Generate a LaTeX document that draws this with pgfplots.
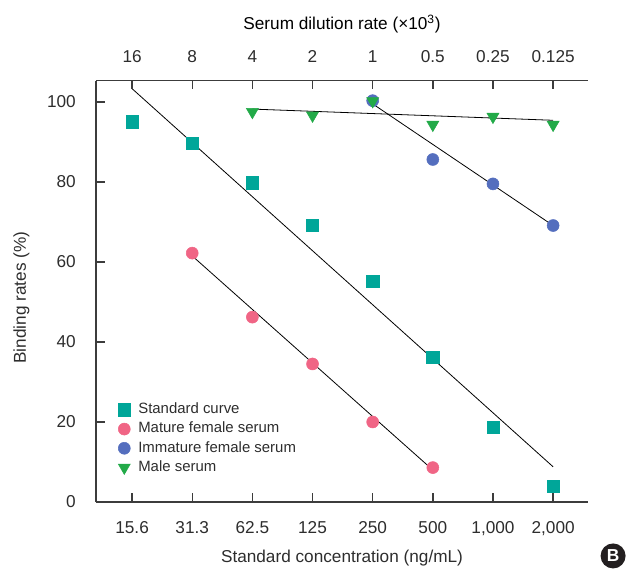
\documentclass[border=0pt]{standalone}
\usepackage{pgfplots}
\pgfplotsset{compat=1.18}
\usepackage{fontspec}
\setmainfont{Liberation Sans}

\definecolor{axisgray}{RGB}{60,60,60}
\definecolor{textgray}{RGB}{45,45,45}
\definecolor{cteal}{RGB}{0,166,153}
\definecolor{cpink}{RGB}{240,101,133}
\definecolor{cblue}{RGB}{84,110,190}
\definecolor{cgreen}{RGB}{34,170,72}

\newcommand\lblfont{\fontsize{12.9}{15}\selectfont}

\begin{document}
\begin{tikzpicture}
\pgfplotsset{
  common/.style={
    scale only axis, width=369pt, height=316pt,
    xmin=-0.6, xmax=7.58, ymin=0, ymax=105.3,
    major tick length=6pt,
    axis line style={-, draw=axisgray, line width=1pt},
    tick style={draw=axisgray, line width=1.1pt},
    ticklabel style={font=\lblfont, text=textgray},
    label style={font=\lblfont, text=textgray},
    /pgf/number format/assume math mode=true,
    clip=false,
  }
}
\begin{axis}[common, name=main,
  axis x line=bottom, axis y line=left,
  x axis line style={-}, y axis line style={-},
  xtick align=inside, ytick align=inside, ytick pos=left,
  ytick style={draw=axisgray, line width=1.1pt},
  major tick length=6.5pt,
  xtick={0,...,7},
  xticklabels={15.6,31.3,62.5,125,250,500,{1,000},{2,000}},
  ytick={0,20,...,100},
  xticklabel style={anchor=base, inner sep=0pt, yshift=-23.25pt},
  yticklabel style={anchor=east, inner sep=0pt, xshift=-15pt},
  xlabel={Standard concentration (ng/mL)},
  xlabel style={at={(axis description cs:0.5,0)}, anchor=base, yshift=-45pt, font=\lblfont},
  ylabel={Binding rates (\%)},
  ylabel style={at={(axis description cs:0,0.485)}, anchor=base, yshift=52.5pt, font=\lblfont},
  legend cell align=left,
  legend image code/.code={\draw[#1] plot coordinates {(0pt,0pt)};},
  legend style={at={(0.0445,0.237)}, anchor=north west, draw=none, fill=none,
    inner sep=0pt, row sep=3.2pt, column sep=5.9pt,
    nodes={inner sep=0pt, text height=8.4pt, text depth=2.8pt,
      font=\fontsize{11.2}{13}\selectfont, text=textgray}},
]
% standard curve
\addplot[only marks, mark=square*, color=cteal, mark size=4.6pt]
  coordinates {(0,95) (1,89.6) (2,79.8) (3,69.2) (4,55.2) (5,36.2) (6,18.7) (7,4.0)};
% mature female serum
\addplot[only marks, mark=*, color=cpink, mark size=4.5pt]
  coordinates {(1,62.2) (2,46.2) (3,34.5) (4,20.0) (5,8.6)};
% immature female serum
\addplot[only marks, mark=*, color=cblue, mark size=4.5pt]
  coordinates {(4,100.3) (5,85.6) (6,79.5) (7,69.1)};
% male serum
\addplot[only marks, mark=triangle*, color=cgreen, mark size=5.2pt, mark options={rotate=180}]
  coordinates {(2,97.5) (3,96.6) (4,100.2) (5,94.3) (6,96.3) (7,94.3)};
\legend{Standard curve, Mature female serum, Immature female serum, Male serum}

% fitted lines
\addplot[forget plot, black, line width=0.6pt] coordinates {(0,103.3) (7,8.8)};
\addplot[forget plot, black, line width=0.6pt] coordinates {(1,61.5) (5,8.0)};
\addplot[forget plot, black, line width=0.6pt] coordinates {(4,99.5) (6.95,69.6)};
\addplot[forget plot, black, line width=0.6pt] coordinates {(2,98.2) (7,95.4)};

% y ticks, drawn again so they show (about 8 px long)
\pgfplotsinvokeforeach{20,40,60,80,100}{
  \draw[axisgray, line width=1.1pt] (axis cs:-0.6,#1) -- (axis cs:-0.456,#1);
}

\node[circle, fill={rgb,255:red,35;green,31;blue,32}, text=white, minimum size=18.75pt, inner sep=0pt,
  font=\fontsize{13}{13}\selectfont\bfseries] at (rel axis cs:1.051,-0.128) {B};
\end{axis}

\begin{axis}[common,
  axis x line=top, axis y line=none,
  x axis line style={-}, y axis line style={-},
  xtick align=inside,
  xtick={0,...,7},
  xticklabels={16,8,4,2,1,0.5,0.25,0.125},
  xticklabel style={anchor=base, inner sep=0pt, yshift=13.3pt},
  xlabel={Serum dilution rate (×10\textsuperscript{3})},
  xlabel style={at={(axis description cs:0.5,1)}, anchor=base, yshift=38.25pt, font=\lblfont},
]
\end{axis}

\pgfresetboundingbox
\path ([xshift=-72pt,yshift=-49.5pt]main.south west) rectangle ([xshift=29.25pt,yshift=60.5pt]main.north east);
\end{tikzpicture}
\end{document}
